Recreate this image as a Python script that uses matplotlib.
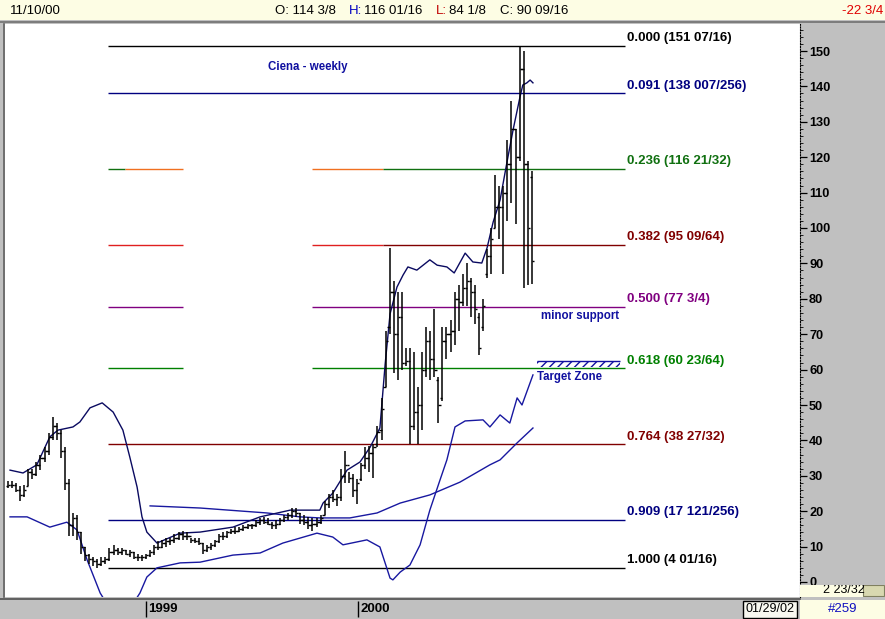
import matplotlib
matplotlib.use('Agg')
import matplotlib.pyplot as plt
from matplotlib.patches import Rectangle
import numpy as np

# ---------------- data ----------------
highs = [28.5, 28.5, 28, 27, 27.5, 32, 32, 34, 36, 38,
         42, 46.5, 45, 43, 38, 29, 19.5, 19, 14, 10,
         8, 7, 6.5, 7, 7, 9.5, 10.5, 9.5, 9.5, 9,
         9, 8.5, 8, 7.5, 8, 9, 10.5, 11.5, 12, 12.5,
         12.5, 13.5, 14, 14.5, 14, 12.5, 12.5, 12.5, 11, 10.5,
         11, 12, 13.5, 14, 14.5, 15, 15.5, 15.5, 16, 16.5,
         16.5, 17.5, 18, 18.5, 18, 17, 17.5, 18, 19, 19.5,
         21, 21, 19.5, 19, 18.5, 18, 18, 19, 23, 25,
         26, 25, 32, 37, 31, 30.5, 29, 33.5, 38, 38.5,
         39, 44, 52, 71, 94.4, 85, 82, 82, 66, 66,
         65, 55, 65, 72, 71, 77, 58, 72, 72, 74,
         82, 84, 87, 90, 86, 84, 76, 80, 94, 100,
         115, 112, 112, 125, 136, 128, 151.44, 150, 119, 116.06]
lows = [26.5, 26.5, 25.5, 23, 24, 27, 29, 30, 31.5, 34,
        36, 40, 40, 35, 26, 13, 13, 12, 8, 6,
        5, 4.5, 4.06, 4.5, 5, 6, 7.5, 7.5, 7.5, 7.5,
        7, 6.5, 6, 6, 6.5, 7, 7.5, 9, 9.5, 10,
        10.5, 11, 12, 12, 12, 11, 11, 10.5, 8, 8.5,
        9, 10, 11, 12, 12.5, 13.5, 13.5, 14, 14.5, 15,
        15, 15.5, 16, 16.5, 16, 15, 15, 16, 17, 17.5,
        18, 18.5, 16.5, 16, 15, 14.5, 15.5, 16.5, 19, 21,
        22.5, 21.5, 23, 28, 28, 24, 22, 28.5, 32, 31,
        29.5, 38, 40, 55, 70, 59, 57, 60, 61, 39,
        43, 39, 43, 58, 57, 58, 45, 51, 63, 65,
        67, 71, 78, 78, 75, 73, 64, 71, 86, 87,
        100, 97, 87, 102, 107, 101, 119, 83, 84, 84.12]
opens = [27, 27.5, 27.5, 26, 24.5, 27, 31, 30.5, 33, 35,
         37, 41, 44, 42, 37, 28, 16, 18, 14, 10,
         7.5, 6.5, 6, 5, 6, 6.5, 8.5, 9, 8.5, 9,
         8, 8.5, 7, 7, 7, 7.5, 8.5, 10, 10, 11,
         11.5, 12, 12.5, 13.5, 13, 13, 12, 11.5, 11, 9,
         10, 10.5, 11.5, 13, 13, 14, 14.5, 14.5, 15, 15.5,
         16, 16, 17, 17.5, 17, 16.5, 16, 16.5, 17.5, 18.5,
         19, 20, 19.5, 17.5, 17, 16, 16.5, 17, 19, 22,
         24, 23.5, 24, 30, 33, 29.5, 26, 29, 33, 35,
         36.5, 39, 43, 55, 72, 82, 70, 75, 62, 62.5,
         44, 48, 50, 60, 68, 63, 57, 52, 68, 70,
         71, 80, 79, 83, 85, 82, 75, 72, 87, 92,
         100, 106, 106, 110, 118, 128, 120, 145, 118, 114.375]
closes = [27.5, 27.5, 26, 24.5, 26, 31, 30.5, 33, 35, 37,
          41, 44, 42, 37, 28, 16, 18, 14, 10, 7.5,
          6.5, 6, 5, 6, 6.5, 8.5, 9, 8.5, 9, 8,
          8.5, 7, 7, 7, 7.5, 8.5, 10, 10, 11, 11.5,
          12, 12.5, 13.5, 13, 13, 12, 11.5, 11, 9, 10,
          10.5, 11.5, 13, 13, 14, 14.5, 14.5, 15, 15.5, 16,
          16, 17, 17.5, 17, 16.5, 16, 16.5, 17.5, 18.5, 19,
          20, 19.5, 17.5, 17, 16, 16.5, 17, 18, 22, 24,
          23.5, 24, 30, 33, 29.5, 26, 28, 33, 35, 36.5,
          38, 42.5, 49, 68, 82, 70, 75, 62, 62.5, 44,
          48, 50, 60, 68, 63, 60, 50, 68, 70, 71,
          80, 79, 83, 85, 82, 77, 66, 78, 92, 97,
          106, 106, 110, 118, 128, 120, 145, 118, 100, 90.5625]

# indicator lines (week index, price)
upper_w = [0.5, 3.7, 7.1, 10.3, 12.3, 16.0, 17.7, 20.2, 23.2, 25.9, 28.3, 30.0, 31.8, 33.0,
           34.2, 36.7, 42.4, 47.3, 55.4, 62.1, 69.5, 76.8, 77.6, 80.0, 83.5, 86.7, 89.2,
           91.6, 92.9, 94.1, 95.8, 97.3, 98.5, 100.7, 103.9, 105.7, 108.1, 109.9, 112.6,
           114.5, 116.7, 118.0, 119.5, 121.2, 122.9, 124.4, 126.1, 126.8, 127.8, 128.6, 129.3]
upper_p = [31.6, 30.8, 33.1, 41.0, 42.9, 43.8, 45.2, 49.2, 50.6, 48.0, 42.9, 35.3, 26.8, 18.4,
           14.1, 11.0, 13.8, 14.1, 15.5, 18.4, 20.3, 20.3, 22.3, 25.1, 31.6, 33.9, 38.1,
           43.5, 61.6, 75.7, 83.3, 86.7, 89.0, 88.1, 91.0, 89.5, 89.0, 87.3, 92.9,
           90.4, 90.1, 94.4, 101.7, 107.9, 118.6, 127.7, 137.0, 140.4, 141.0, 141.8, 141.0]
lower_w = [0.5, 4.7, 10.3, 14.5, 17.0, 19.5, 22.7, 27.5, 32.5, 34.2, 36.7, 42.4, 47.3, 55.4,
           62.1, 67.7, 76.1, 80.0, 82.5, 88.4, 91.6, 94.1, 94.8, 96.6, 99.0, 101.5, 103.9,
           106.4, 108.1, 110.1, 112.6, 117.0, 118.7, 121.2, 123.6, 125.4, 126.6, 129.3]
lower_p = [18.4, 18.4, 15.5, 16.9, 14.7, 6.2, -3.1, -12.0, -3.1, 1.4, 4.0, 5.4, 5.6, 7.6,
           8.2, 11.0, 13.8, 12.7, 10.5, 11.9, 9.9, 1.1, 0.6, 2.8, 4.8, 10.5, 20.3,
           28.8, 34.5, 43.8, 45.5, 45.8, 43.8, 47.2, 44.9, 52.0, 50.0, 58.5]
ma_w = [35.0, 47.3, 63.8, 71.9, 76.8, 84.2, 90.9, 96.6, 103.9, 111.3, 118.7, 121.2, 125.4, 129.3]
ma_p = [21.5, 20.9, 19.5, 18.4, 18.1, 18.1, 19.5, 22.3, 24.6, 28.2, 33.1, 34.5, 39.3, 43.5]

fib_ratios = ['0.000', '0.091', '0.236', '0.382', '0.500', '0.618', '0.764', '0.909', '1.000']
fib_prices = [151.4375, 138.02734, 116.65625, 95.140625, 77.75, 60.359375, 38.84375, 17.47266, 4.0625]
fib_texts = ['151 07/16', '138 007/256', '116 21/32', '95 09/64', '77 3/4',
             '60 23/64', '38 27/32', '17 121/256', '4 01/16']
fib_colors = ['#000000', '#000080', '#107010', '#800000', '#800080',
              '#008000', '#800000', '#000080', '#000000']

year_labels = ['1999', '2000']
year_weeks = [34.0, 86.2]
yticks = list(range(0, 151, 10))

# ---------------- layout helpers ----------------
W, H = 885, 619
fig = plt.figure(figsize=(W / 100, H / 100), dpi=100, facecolor='#c0c0c0')

FONT = ['Liberation Sans', 'DejaVu Sans']


def px_axes(x0, y0, x1, y1, **kw):
    return fig.add_axes([x0 / W, 1 - y1 / H, (x1 - x0) / W, (y1 - y0) / H], **kw)


def bare(a):
    a.set_xticks([]); a.set_yticks([])
    for s in a.spines.values():
        s.set_visible(False)


def wx(px):
    return (px - 8) / 4.06


XLIM = (wx(5), wx(800))
YLIM = ((582 - 597) / 3.54, (582 - 24) / 3.54)

# right gray panel
axR = px_axes(800, 24, 885, 597)
axR.set_facecolor('#c0c0c0')
bare(axR)

# main chart
ax = px_axes(5, 24, 800, 597)
ax.set_facecolor('white')
ax.set_xlim(*XLIM)
ax.set_ylim(*YLIM)
for k in ['top', 'left', 'bottom']:
    ax.spines[k].set_visible(False)
ax.spines['right'].set_linestyle((0, (1, 1.5)))
ax.spines['right'].set_linewidth(0.8)
ax.set_xticks([])
ax.yaxis.tick_right()
ax.set_yticks(yticks)
ax.set_yticklabels([str(v) for v in yticks], family=FONT, fontsize=9.2, fontweight='bold')
ax.set_yticks(np.arange(0, 157, 2), minor=True)
ax.tick_params(axis='y', which='major', direction='out', length=5, width=0.9, pad=1.5)
ax.tick_params(axis='y', which='minor', direction='out', length=2, width=0.6)

# fib lines
for i, (r, p, t, c) in enumerate(zip(fib_ratios, fib_prices, fib_texts, fib_colors)):
    if i in (0, 1, 6, 7, 8):
        ax.hlines(p, wx(108), wx(625), color=c, lw=1.0)
    elif i == 2:
        ax.hlines(p, wx(108), wx(125), color=c, lw=1.0)
        ax.hlines(p, wx(125), wx(183), color='#f07020', lw=1.0)
        ax.hlines(p, wx(312), wx(383), color='#f07020', lw=1.0)
        ax.hlines(p, wx(383), wx(625), color=c, lw=1.0)
    elif i == 3:
        ax.hlines(p, wx(108), wx(183), color='#e02020', lw=1.0)
        ax.hlines(p, wx(312), wx(383), color='#e02020', lw=1.0)
        ax.hlines(p, wx(383), wx(625), color=c, lw=1.0)
    else:
        ax.hlines(p, wx(108), wx(183), color=c, lw=1.0)
        ax.hlines(p, wx(312), wx(625), color=c, lw=1.0)
    ax.text(wx(627), p + 0.5, f'{r} ({t})', color=c, ha='left', va='bottom',
            family=FONT, fontsize=9.5, fontweight='bold')

# indicator lines
ax.plot(ma_w, ma_p, color='#1818a0', lw=1.0)
ax.plot(lower_w, lower_p, color='#1818a0', lw=1.0)
ax.plot(upper_w, upper_p, color='#0a0a60', lw=1.0)

# price bars
wk = np.arange(len(highs))
ax.vlines(wk, lows, highs, color='black', lw=1.1)
ax.hlines(opens, wk - 0.55, wk, color='black', lw=1.0)
ax.hlines(closes, wk, wk + 0.55, color='black', lw=1.0)

# annotations
akw = dict(color='#1010a0', fontsize=8.3, fontweight='bold', family=FONT, ha='left', va='center')
ax.text(wx(268), 145.5, 'Ciena - weekly', **akw)
ax.text(wx(541), 75.0, 'minor support', **akw)
ax.text(wx(537), 57.9, 'Target Zone', **akw)
ax.add_patch(Rectangle((wx(537), 60.8), wx(620) - wx(537), 1.7, facecolor='none',
                       edgecolor='#1010a0', hatch='////', lw=0))
ax.hlines(62.5, wx(537), wx(620), color='#1010a0', lw=1.0)

# top bar
axT = px_axes(0, 0, 885, 20)
axT.set_facecolor('#fdfde4')
axT.set_xlim(0, W); axT.set_ylim(20, 0)
bare(axT)
tkw = dict(family=FONT, fontsize=9.5, va='center', ha='left')
axT.text(10, 10.5, '11/10/00', color='black', **tkw)
axT.text(275, 10.5, 'O: 114 3/8', color='black', **tkw)
axT.text(349, 10.5, 'H:', color='#0000c0', **tkw)
axT.text(364, 10.5, '116 01/16', color='black', **tkw)
axT.text(436, 10.5, 'L:', color='#c00000', **tkw)
axT.text(449, 10.5, '84 1/8', color='black', **tkw)
axT.text(500, 10.5, 'C: 90 09/16', color='black', **tkw)
axT.text(883, 10.5, '-22 3/4', color='#e00000', family=FONT, fontsize=9.5, va='center', ha='right')

# borders
fig.add_artist(plt.Line2D([0, 1], [1 - 21.5 / H, 1 - 21.5 / H], color='#707070', lw=1.2))
fig.add_artist(plt.Line2D([3.5 / W, 3.5 / W], [1 - 597 / H, 1 - 24 / H], color='#606060', lw=1.2))
fig.add_artist(plt.Line2D([0, 800 / W], [1 - 599 / H, 1 - 599 / H], color='#505050', lw=1.2))

# bottom bar (time axis)
axB = px_axes(5, 600, 800, 619)
axB.set_facecolor('#c0c0c0')
axB.set_xlim(*XLIM); axB.set_ylim(0, 1)
bare(axB)
for lab, w in zip(year_labels, year_weeks):
    axB.vlines(w, 0.1, 0.95, color='black', lw=1.0)
    axB.text(w + 0.5, 0.5, lab, family=FONT, fontsize=9.5, fontweight='bold',
             ha='left', va='center')
axB.text(wx(770), 0.5, '01/29/02', family=FONT, fontsize=9, ha='center', va='center',
         bbox=dict(boxstyle='square,pad=0.2', fc='#f8f8f0', ec='black', lw=1))

axBR = px_axes(800, 600, 885, 619)
axBR.set_facecolor('#fdfde4')
axBR.set_xlim(800, 885); axBR.set_ylim(0, 1)
bare(axBR)
axBR.text(843, 0.5, '#259', color='#1010c0', family=FONT, fontsize=9.5, ha='center', va='center')

# small box bottom right of price scale
axS = px_axes(800, 585, 885, 597)
axS.set_facecolor('#fdfde4')
axS.set_xlim(800, 885); axS.set_ylim(0, 1)
bare(axS)
axS.text(823, 0.05, '2 23/32', family=FONT, fontsize=9, ha='left', va='bottom', clip_on=True)
axS.add_patch(Rectangle((863, 0.05), 21, 0.95, facecolor='#d8d8b0', edgecolor='#808060', lw=0.8))

fig.savefig('out.png', dpi=100, facecolor=fig.get_facecolor())
